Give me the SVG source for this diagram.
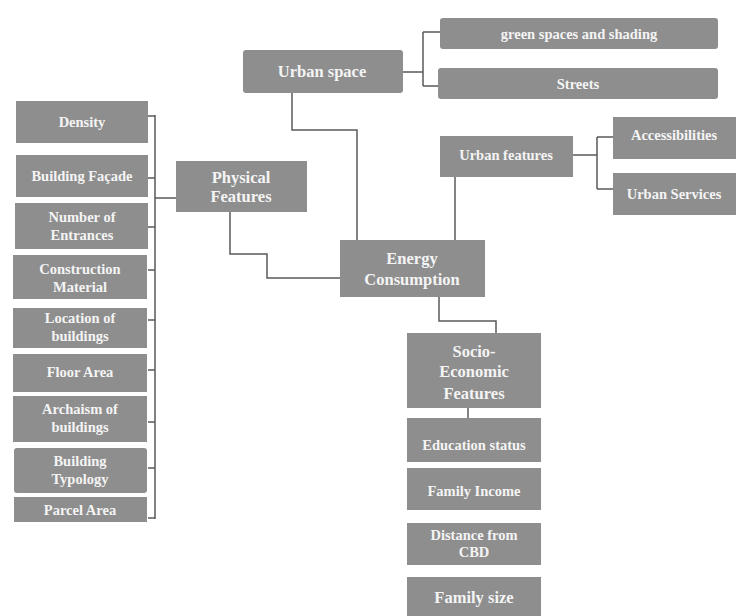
<svg xmlns="http://www.w3.org/2000/svg" width="736" height="616" viewBox="0 0 736 616">
<style>
.b{fill:#8e8e8e}
.t{fill:#f4f4f4;font-family:"Liberation Serif",serif;font-weight:bold;font-size:14.5px;text-anchor:middle}
.l{fill:#f4f4f4;font-family:"Liberation Serif",serif;font-weight:bold;font-size:16.5px;text-anchor:middle}
.c{fill:none;stroke:#5a5a5a;stroke-width:1.5}
</style>
<rect width="736" height="616" fill="#ffffff"/>
<g id="connectors">
<path class="c" d="M148 116H155M148 178H155M148 227H155M148 270H155M148 320H155M148 370H155M148 422H155M148 468H155M148 518H155M155 115V519M155 198H176"/>
<path class="c" d="M230 212V254H267V278H340"/>
<path class="c" d="M292 93V130H357V240"/>
<path class="c" d="M403 72H423M423 32V86M423 32H440M423 86H438"/>
<path class="c" d="M455 177V240"/>
<path class="c" d="M573 155H597M597 137V189M597 137H613M597 189H613"/>
<path class="c" d="M439 297V321H496V333"/>
<path class="c" d="M468 408V418"/>
</g>
<g id="density"><rect class="b" x="16" y="101" width="132" height="42"/><text class="t" x="82" y="127">Density</text></g>
<g id="facade"><rect class="b" x="16" y="155" width="132" height="42"/><text class="t" x="82" y="181">Building Façade</text></g>
<g id="entrances"><rect class="b" x="15" y="203" width="133" height="46"/><text class="t" x="82" y="222">Number of</text><text class="t" x="82" y="240">Entrances</text></g>
<g id="material"><rect class="b" x="13" y="255" width="134" height="44"/><text class="t" x="80" y="274">Construction</text><text class="t" x="80" y="292">Material</text></g>
<g id="location"><rect class="b" x="13" y="308" width="134" height="40"/><text class="t" x="80" y="323">Location of</text><text class="t" x="80" y="341">buildings</text></g>
<g id="floor"><rect class="b" x="13" y="354" width="134" height="38"/><text class="t" x="80" y="377">Floor Area</text></g>
<g id="archaism"><rect class="b" x="13" y="396" width="134" height="46"/><text class="t" x="80" y="414">Archaism of</text><text class="t" x="80" y="432">buildings</text></g>
<g id="typology"><rect class="b" x="14" y="448" width="133" height="45" rx="3"/><text class="t" x="80" y="466">Building</text><text class="t" x="80" y="484">Typology</text></g>
<g id="parcel"><rect class="b" x="14" y="497" width="133" height="25"/><text class="t" x="80" y="515">Parcel Area</text></g>
<g id="physical"><rect class="b" x="176" y="161" width="131" height="51"/><text class="l" x="241" y="183">Physical</text><text class="l" x="241" y="202">Features</text></g>
<g id="urbanspace"><rect class="b" x="243" y="50" width="160" height="43" rx="3"/><text class="l" x="322" y="77">Urban  space</text></g>
<g id="green"><rect class="b" x="440" y="18" width="278" height="31" rx="3"/><text class="t" x="579" y="39">green spaces and shading</text></g>
<g id="streets"><rect class="b" x="438" y="68" width="280" height="31" rx="3"/><text class="t" x="578" y="89">Streets</text></g>
<g id="urbanfeatures"><rect class="b" x="440" y="136" width="133" height="41"/><text class="t" x="506" y="160">Urban features</text></g>
<g id="access"><rect class="b" x="613" y="117" width="123" height="42"/><text class="t" x="674" y="140">Accessibilities</text></g>
<g id="services"><rect class="b" x="613" y="173" width="123" height="42"/><text class="t" x="674" y="199">Urban Services</text></g>
<g id="energy"><rect class="b" x="340" y="240" width="145" height="57"/><text class="l" x="412" y="264">Energy</text><text class="l" x="412" y="285">Consumption</text></g>
<g id="socio"><rect class="b" x="407" y="333" width="134" height="75"/><text class="l" x="474" y="357">Socio-</text><text class="l" x="474" y="377">Economic</text><text class="l" x="474" y="399">Features</text></g>
<g id="education"><rect class="b" x="407" y="418" width="134" height="44"/><text class="t" x="474" y="450">Education status</text></g>
<g id="income"><rect class="b" x="407" y="468" width="134" height="42"/><text class="t" x="474" y="496">Family Income</text></g>
<g id="distance"><rect class="b" x="407" y="523" width="134" height="42"/><text class="t" x="474" y="540">Distance from</text><text class="t" x="474" y="557">CBD</text></g>
<g id="familysize"><rect class="b" x="407" y="577" width="134" height="39"/><text class="l" x="474" y="603">Family  size</text></g>
</svg>
